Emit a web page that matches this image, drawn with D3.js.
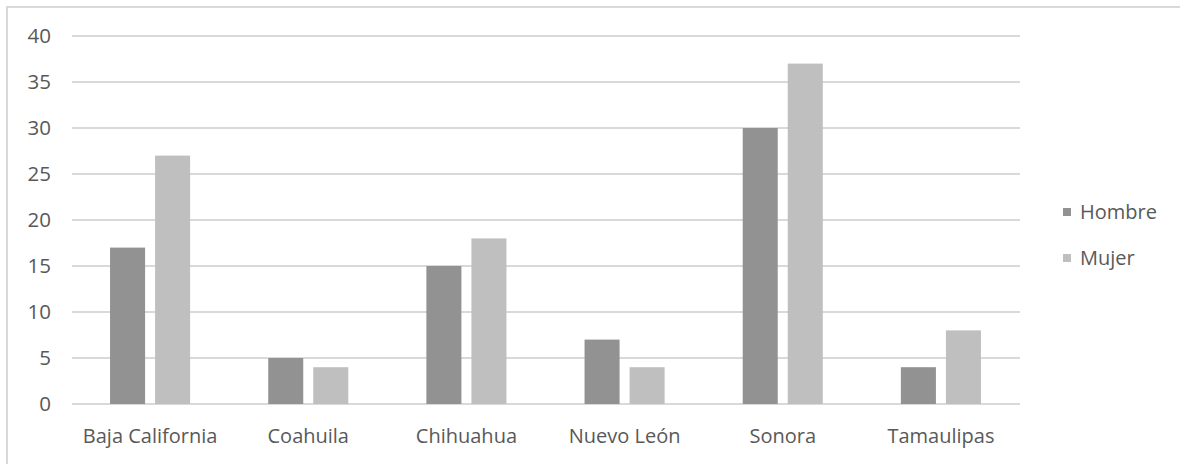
<!DOCTYPE html>
<html><head><meta charset="utf-8">
<script src="https://cdn.jsdelivr.net/npm/d3@7"></script>
<style>
html,body{margin:0;padding:0;background:#fff;}
text{font-family:"Open Sans",Lato,sans-serif;fill:#595959;}
</style></head>
<body>
<svg id="chart" width="1180" height="464"></svg>
<script>
const categories = ["Baja California","Coahuila","Chihuahua","Nuevo León","Sonora","Tamaulipas"];
const seriesNames = ["Hombre","Mujer"];
const hombre = [17,5,15,7,30,4];
const mujer = [27,4,18,4,37,8];
const yTicks = [0,5,10,15,20,25,30,35,40];
const colors = ["#929292","#bfbfbf"];

const svg = d3.select("#chart");

// outer border
svg.append("path").attr("d","M7,470 L7,7 L1190,7")
  .attr("fill","none").attr("stroke","#d9d9d9").attr("stroke-width",2);

const x0 = d3.scaleBand().domain(categories).range([71,1020]);
const x1 = d3.scaleBand().domain(seriesNames).range([0,x0.bandwidth()])
  .paddingInner(10/45).paddingOuter(0.867);
const y = d3.scaleLinear().domain([0,40]).range([404,36]);

// gridlines
svg.append("g").selectAll("line").data(yTicks).join("line")
  .attr("x1",72).attr("x2",1020)
  .attr("y1",d=>y(d)).attr("y2",d=>y(d))
  .attr("stroke","#d9d9d9").attr("stroke-width",2);

// y axis labels
svg.append("g").selectAll("text").data(yTicks).join("text")
  .attr("x",51).attr("y",d=>y(d)).attr("dy","0.36em")
  .attr("text-anchor","end").attr("font-size",20.5).text(d=>d);

// bars
const data = categories.map((c,i)=>({cat:c, vals:[hombre[i], mujer[i]]}));
const g = svg.append("g").selectAll("g").data(data).join("g")
  .attr("transform",d=>`translate(${x0(d.cat)},0)`);
g.selectAll("rect").data(d=>d.vals.map((v,j)=>({s:seriesNames[j],v,j})))
  .join("rect")
  .attr("x",d=>x1(d.s)).attr("width",x1.bandwidth())
  .attr("y",d=>y(d.v)).attr("height",d=>y(0)-y(d.v))
  .attr("fill",d=>colors[d.j]);

// x labels
svg.append("g").selectAll("text").data(categories).join("text")
  .attr("x",d=>x0(d)+x0.bandwidth()/2).attr("y",443)
  .attr("text-anchor","middle").attr("font-size",20).text(d=>d);

// legend
const leg = svg.append("g").selectAll("g").data(seriesNames).join("g")
  .attr("transform",(d,i)=>`translate(1063,${208+i*46})`);
leg.append("rect").attr("width",8).attr("height",8).attr("fill",(d,i)=>colors[i]);
leg.append("text").attr("x",17).attr("y",4).attr("dy","0.36em").attr("font-size",20).text(d=>d);
</script>
</body></html>
